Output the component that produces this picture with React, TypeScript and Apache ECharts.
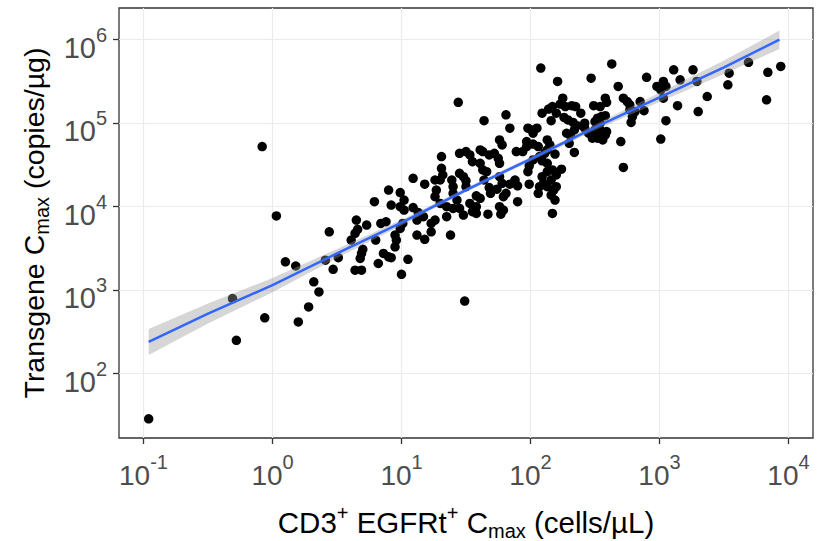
import React, { useEffect, useRef } from "react";
import * as echarts from "echarts";

// log10 of CD3+ EGFRt+ Cmax (cells/µL)
const log10Cells = [
  -0.96, -0.31, -0.28, -0.08, -0.06, 0.03, 0.10, 0.18, 0.20, 0.28,
  0.32, 0.36, 0.41, 0.44, 0.47, 0.51, 0.61, 0.64, 0.66, 0.65,
  0.73, 0.64, 0.69, 0.68, 0.69, 0.70, 0.79, 0.80, 0.82, 0.86,
  0.90, 0.92, 0.84, 0.88, 0.90, 0.99, 0.92, 0.99, 1.02, 0.95,
  0.96, 0.95, 0.99, 1.01, 1.00, 1.05, 1.02, 1.09, 1.13, 1.09,
  1.18, 1.12, 1.18, 1.12, 1.17, 1.23, 1.26, 1.23, 1.26, 1.26,
  1.30, 1.27, 1.31, 1.32, 1.31, 1.30, 1.35, 1.35, 1.40, 1.38,
  1.40, 1.43, 1.45, 1.48, 1.39, 1.40, 1.45, 1.48, 1.50, 1.50,
  1.53, 1.55, 1.58, 1.58, 1.61, 1.58, 1.49, 1.64, 1.68, 1.69,
  1.74, 1.76, 1.78, 1.67, 1.76, 1.77, 1.79, 1.79, 1.81, 1.84,
  1.88, 1.90, 1.90, 1.99, 2.06, 2.10, 1.98, 1.99, 1.44, 1.64,
  1.81, 1.84, 1.76, 1.78, 1.61, 1.63, 1.45, 1.50, 1.53, 1.68,
  1.72, 1.75, 1.76, 1.55, 1.61, 1.63, 1.66, 1.89, 1.94, 1.97,
  1.97, 2.02, 2.06, 2.13, 2.15, 2.13, 1.98, 2.01, 2.02, 2.05,
  2.02, 2.07, 2.09, 2.13, 2.09, 2.13, 2.16, 2.17, 2.20, 2.24,
  2.07, 2.13, 2.18, 2.16, 2.19, 2.20, 2.17, 2.11, 2.19, 2.08,
  2.09, 2.14, 2.16, 2.17, 2.20, 2.21, 2.25, 2.23, 2.27, 2.32,
  2.35, 2.26, 2.29, 2.33, 2.36, 2.34, 2.28, 2.31, 2.30, 2.34,
  2.39, 2.42, 2.42, 2.45, 2.48, 2.52, 2.50, 2.54, 2.56, 2.58,
  2.56, 2.59, 2.50, 2.54, 2.52, 2.55, 2.58, 2.47, 2.49, 2.54,
  2.58, 2.59, 2.63, 2.68, 2.72, 2.75, 2.77, 2.70, 2.72, 2.77,
  2.81, 2.79, 2.78, 2.85, 2.88, 2.90, 2.98, 3.03, 3.05, 3.01,
  3.03, 3.01, 3.05, 3.11, 3.14, 3.16, 3.26, 3.29, 3.30, 3.37,
  3.54, 3.53, 3.69, 3.84, 3.94, 3.83,
];

// log10 of Transgene Cmax (copies/µg)
const log10Copies = [
  1.46, 2.90, 2.40, 4.72, 2.67, 3.89, 3.34, 3.29, 2.62, 2.80,
  3.10, 2.98, 3.36, 3.70, 3.25, 3.39, 3.60, 3.68, 3.73, 3.84,
  3.78, 3.24, 3.24, 3.38, 3.44, 3.49, 4.06, 3.60, 3.32, 3.44,
  3.40, 3.39, 3.80, 3.82, 4.20, 4.17, 4.02, 4.00, 3.96, 3.66,
  3.60, 3.52, 3.74, 3.80, 3.19, 3.37, 4.08, 3.99, 3.93, 4.34,
  4.27, 3.66, 3.61, 3.84, 3.88, 3.80, 3.84, 3.70, 4.12, 4.32,
  4.32, 4.20, 4.46, 4.38, 4.60, 4.04, 4.00, 3.88, 3.98, 3.66,
  4.16, 4.08, 3.98, 3.90, 4.32, 4.24, 4.40, 4.36, 4.31, 4.24,
  4.04, 3.94, 3.92, 4.13, 4.10, 4.00, 2.87, 4.32, 4.23, 4.16,
  4.21, 4.36, 4.28, 3.91, 4.00, 3.91, 3.96, 4.12, 4.16, 4.27,
  4.32, 4.25, 4.06, 4.27, 4.16, 4.28, 4.42, 4.49, 5.25, 5.03,
  5.10, 4.94, 4.80, 4.74, 4.68, 4.66, 4.64, 4.66, 4.62, 4.62,
  4.64, 4.58, 4.52, 4.54, 4.52, 4.44, 4.42, 4.66, 4.66, 4.72,
  4.78, 4.75, 4.72, 4.80, 4.74, 4.68, 4.94, 4.92, 4.88, 4.94,
  4.56, 4.60, 4.55, 4.52, 4.36, 4.42, 4.32, 4.44, 4.38, 4.45,
  4.24, 4.24, 4.20, 4.14, 4.08, 4.24, 3.92, 4.64, 4.63, 5.66,
  5.12, 5.17, 5.03, 5.20, 5.12, 5.50, 5.30, 5.23, 5.20, 5.21,
  5.20, 5.07, 5.04, 5.01, 4.97, 4.92, 4.88, 4.85, 4.76, 4.65,
  5.12, 4.94, 5.00, 4.88, 4.82, 4.82, 4.92, 4.92, 4.88, 4.86,
  4.80, 4.90, 5.02, 5.00, 5.06, 5.08, 5.09, 5.54, 5.21, 5.20,
  5.30, 5.25, 5.71, 5.44, 5.30, 5.26, 5.22, 4.78, 4.47, 5.16,
  5.14, 5.08, 5.01, 5.26, 5.15, 5.55, 5.44, 5.50, 5.44, 5.40,
  5.30, 4.81, 5.03, 5.64, 5.21, 5.52, 5.64, 5.50, 5.14, 5.32,
  5.60, 5.46, 5.73, 5.61, 5.68, 5.28,
];

// smooth fit (log10 units) and its confidence band
const fitX = [-0.96, -0.5, 0, 0.5, 1, 1.5, 2, 2.5, 3, 3.5, 3.93];
const fitY = [2.38, 2.72, 3.06, 3.44, 3.81, 4.2, 4.57, 4.95, 5.31, 5.67, 6.0];
const bandLower = [2.225, 2.6, 2.975, 3.385, 3.775, 4.175, 4.545, 4.915, 5.255, 5.59, 5.89];
const bandUpper = [2.535, 2.84, 3.145, 3.495, 3.845, 4.225, 4.595, 4.985, 5.365, 5.75, 6.11];

const xTicks = [-1, 0, 1, 2, 3, 4];
const yTicks = [2, 3, 4, 5, 6];

const FONT = "'Liberation Sans', Arial, Helvetica, sans-serif";

export default function App() {
  const ref = useRef<HTMLDivElement>(null);

  useEffect(() => {
    if (!ref.current) return;
    const chart = echarts.init(ref.current, null, { renderer: "svg" });

    const points = log10Cells.map((x, i) => [x, log10Copies[i]]);
    const fitData = fitX.map((x, i) => [x, fitY[i]]);

    const tickColor = "#4D4D4D";
    const xRich = {
      b: { fontSize: 28, fontFamily: FONT, color: tickColor, lineHeight: 34 },
      s: { fontSize: 20, fontFamily: FONT, color: tickColor, lineHeight: 34, padding: [0, 0, 26, 0] },
    };
    const yRich = {
      b: { fontSize: 29, fontFamily: FONT, color: tickColor, lineHeight: 34, padding: [16, 0, 0, 0] },
      s: { fontSize: 20, fontFamily: FONT, color: tickColor, lineHeight: 34, padding: [0, 0, 10, 0] },
    };
    const nameRich = {
      sup: { fontSize: 20, fontFamily: FONT, color: "#000", lineHeight: 30, padding: [0, 0, 20, 0] },
      sub: { fontSize: 20, fontFamily: FONT, color: "#000", lineHeight: 30, padding: [16, 0, 0, 0] },
    };

    chart.setOption({
      animation: false,
      backgroundColor: "#ffffff",
      grid: {
        left: 119,
        right: 10,
        top: 8,
        bottom: 103,
        show: true,
        borderColor: "#333333",
        borderWidth: 1.3,
        containLabel: false,
        outerBoundsMode: "none",
      },
      xAxis: {
        type: "value",
        min: -1.19,
        max: 4.19,
        axisLine: { show: false, onZero: false },
        axisTick: { show: true, length: 6, customValues: xTicks, lineStyle: { color: "#333333", width: 1.3 } },
        axisLabel: {
          customValues: xTicks,
          margin: 20,
          formatter: (v: number) => `{b|10}{s|${Math.round(v)}}`,
          rich: xRich,
        },
        splitLine: { show: true, lineStyle: { color: "#EBEBEB", width: 1.2 } },
        name: "CD3{sup|+} EGFRt{sup|+} C{sub|max} (cells/µL)",
        nameLocation: "middle",
        nameGap: 60,
        nameTextStyle: { fontSize: 29.5, fontFamily: FONT, color: "#000", lineHeight: 30, rich: nameRich },
      },
      yAxis: {
        type: "value",
        min: 1.23,
        max: 6.38,
        axisLine: { show: false, onZero: false },
        axisTick: { show: true, length: 6, customValues: yTicks, lineStyle: { color: "#333333", width: 1.3 } },
        axisLabel: {
          customValues: yTicks,
          margin: 12,
          formatter: (v: number) => `{b|10}{s|${Math.round(v)}}`,
          rich: yRich,
        },
        splitLine: { show: true, lineStyle: { color: "#EBEBEB", width: 1.2 } },
        name: "Transgene C{sub|max} (copies/µg)",
        nameLocation: "middle",
        nameRotate: 90,
        nameGap: 70,
        nameTextStyle: { fontSize: 28.5, fontFamily: FONT, color: "#000", lineHeight: 30, rich: nameRich },
      },
      series: [
        {
          type: "scatter",
          data: points,
          symbol: "circle",
          symbolSize: 9.5,
          itemStyle: { color: "#000000", opacity: 1 },
          z: 2,
        },
        {
          type: "custom",
          data: [[fitX[0], fitY[0]]],
          silent: true,
          z: 3,
          renderItem: (_params: any, api: any) => {
            const pts: number[][] = [];
            for (let i = 0; i < fitX.length; i++) pts.push(api.coord([fitX[i], bandUpper[i]]));
            for (let i = fitX.length - 1; i >= 0; i--) pts.push(api.coord([fitX[i], bandLower[i]]));
            return {
              type: "polygon",
              shape: { points: pts },
              style: { fill: "rgba(153,153,153,0.4)", stroke: "none" },
            };
          },
        },
        {
          type: "line",
          data: fitData,
          symbol: "none",
          lineStyle: { color: "#3366FF", width: 2.5 },
          z: 4,
        },
      ],
    });

    return () => chart.dispose();
  }, []);

  return (
    <div
      ref={ref}
      style={{ width: 823, height: 541, position: "absolute", left: 0, top: 0 }}
    />
  );
}
